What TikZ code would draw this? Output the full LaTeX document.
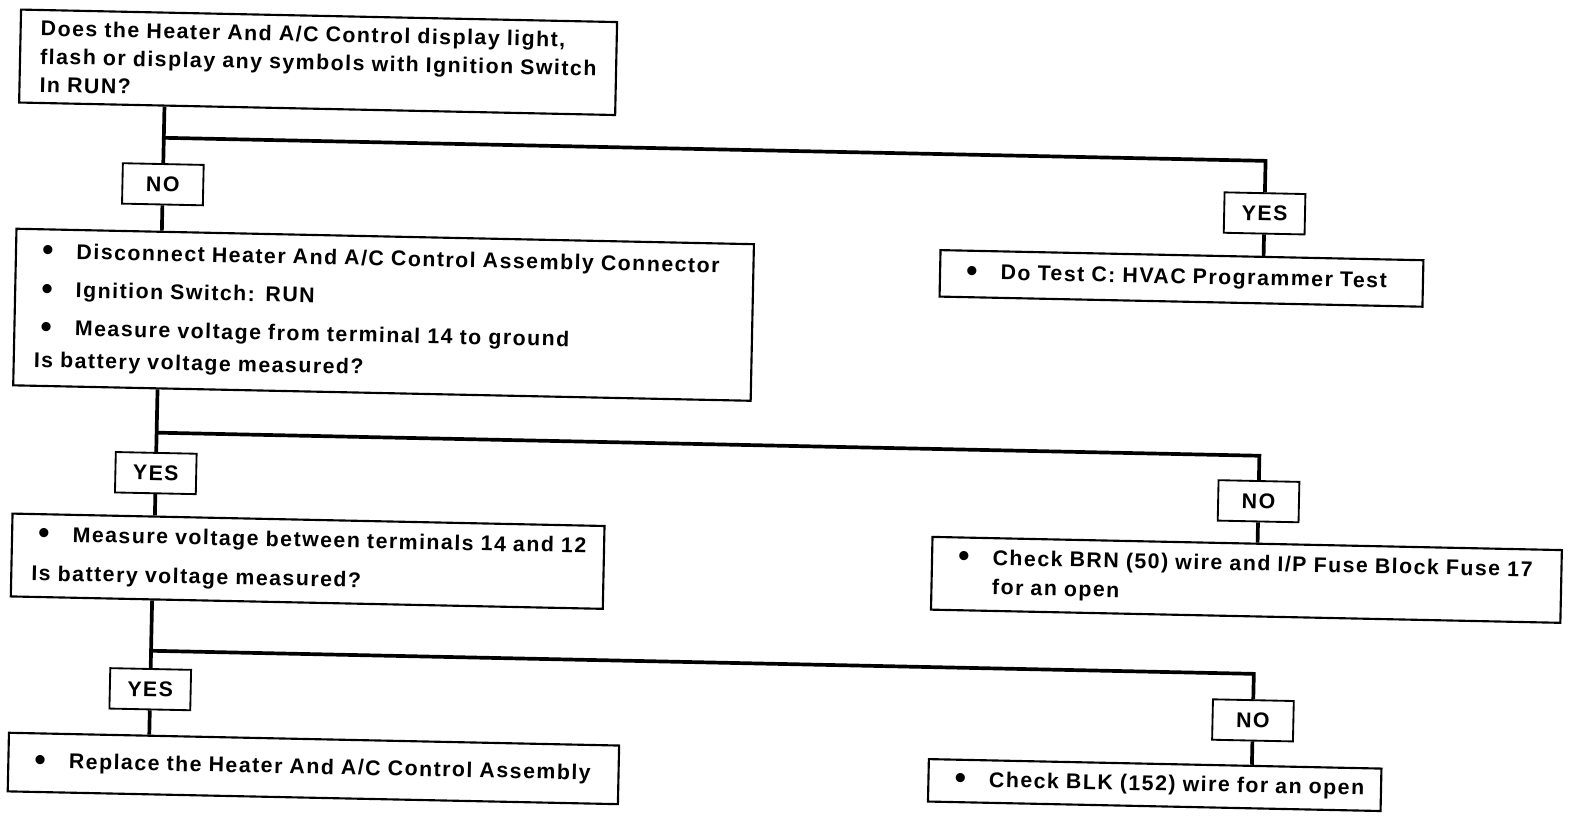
\documentclass[tikz,border=0pt]{standalone}
\usepackage{fontspec}
\setmainfont{Liberation Sans}[LetterSpace=7]
\usetikzlibrary{positioning}

\newcommand{\itm}[1]{\mbox{\makebox[1cm][l]{\hspace{0.15cm}\raisebox{-0.1em}{\scalebox{1.5}{\textbullet}}}#1}}
\newcommand{\txtline}[1]{\mbox{#1}}

\tikzset{
  stepbox/.style={draw, line width=1.5pt, anchor=north west, align=left,
    inner xsep=0.5cm, inner ysep=0pt, font=\fontsize{15}{19}\selectfont\bfseries},
  answer/.style={draw, line width=1.3pt, minimum width=2cm, minimum height=1cm,
    inner sep=0pt, font=\fontsize{15}{19}\selectfont\bfseries},
  link/.style={line width=2.6pt},
}

\begin{document}
\begin{tikzpicture}[x=0.025cm, y=-0.025cm]

  \fill[white] (0,0) rectangle (1568,808);
  \useasboundingbox (0,0) rectangle (1568,808);

  \begin{scope}[rotate=-1.2, transform shape]

  %% -- first question --------------------------------------
  \node[stepbox, text width=13.75cm, minimum height=2.3cm]
    (display) at (20,8)
    {\txtline{Does the Heater And A/C Control display light,}\\[0.03cm]
     \txtline{flash or display any symbols with Ignition Switch}\\[0.03cm]
     \txtline{In RUN?}};

  \node[answer] (noA) at (165,179) {NO};
  \node[answer] (yesA) at (1256,185) {YES};
  \coordinate (jA) at (165,133);

  \node[stepbox, text width=17.25cm, minimum height=3.875cm]
    (check14) at (20,225)
    {\itm{Disconnect Heater And A/C Control Assembly Connector}\\[0.28cm]
     \itm{Ignition Switch: RUN}\\[0.28cm]
     \itm{Measure voltage from terminal 14 to ground}\\[0.13cm]
     \txtline{Is battery voltage measured?}};

  \node[stepbox, text width=10.95cm, minimum height=1.15cm]
    (testC) at (935,227)
    {\itm{Do Test C: HVAC Programmer Test}};

  \draw[link] (display.south -| jA) -- (noA.north);
  \draw[link] (noA.south) -- (check14.north -| noA);
  \draw[link] (jA) -| (yesA.north);
  \draw[link] (yesA.south) -- (testC.north -| yesA);

  %% -- voltage at terminal 14 --------------------------------
  \node[answer] (yesB) at (164,465) {YES};
  \node[answer] (noB) at (1256,470) {NO};
  \coordinate (jB) at (164,425);

  \node[stepbox, text width=13.65cm, minimum height=2.05cm]
    (check1412) at (22,507)
    {\itm{Measure voltage between terminals 14 and 12}\\[0.3cm]
     \txtline{Is battery voltage measured?}};

  \node[stepbox, text width=14.575cm, minimum height=1.8cm]
    (brn) at (933,511)
    {\itm{Check BRN (50) wire and I/P Fuse Block Fuse 17}\\[0.06cm]
     \hspace*{1cm}\txtline{for an open}};

  \draw[link] (check14.south -| jB) -- (yesB.north);
  \draw[link] (yesB.south) -- (check1412.north -| yesB);
  \draw[link] (jB) -| (noB.north);
  \draw[link] (noB.south) -- (brn.north -| noB);

  %% -- voltage between 14 and 12 -----------------------------
  \node[answer] (yesC) at (163,679) {YES};
  \node[answer] (noC) at (1255,687) {NO};
  \coordinate (jC) at (163,641);

  \node[stepbox, text width=14.1cm, minimum height=1.45cm]
    (replace) at (23,724)
    {\itm{Replace the Heater And A/C Control Assembly}};

  \node[stepbox, text width=10.2cm, minimum height=1.05cm]
    (blk) at (934,731)
    {\itm{Check BLK (152) wire for an open}};

  \draw[link] (check1412.south -| jC) -- (yesC.north);
  \draw[link] (yesC.south) -- (replace.north -| yesC);
  \draw[link] (jC) -| (noC.north);
  \draw[link] (noC.south) -- (blk.north -| noC);

  \end{scope}

\end{tikzpicture}
\end{document}
